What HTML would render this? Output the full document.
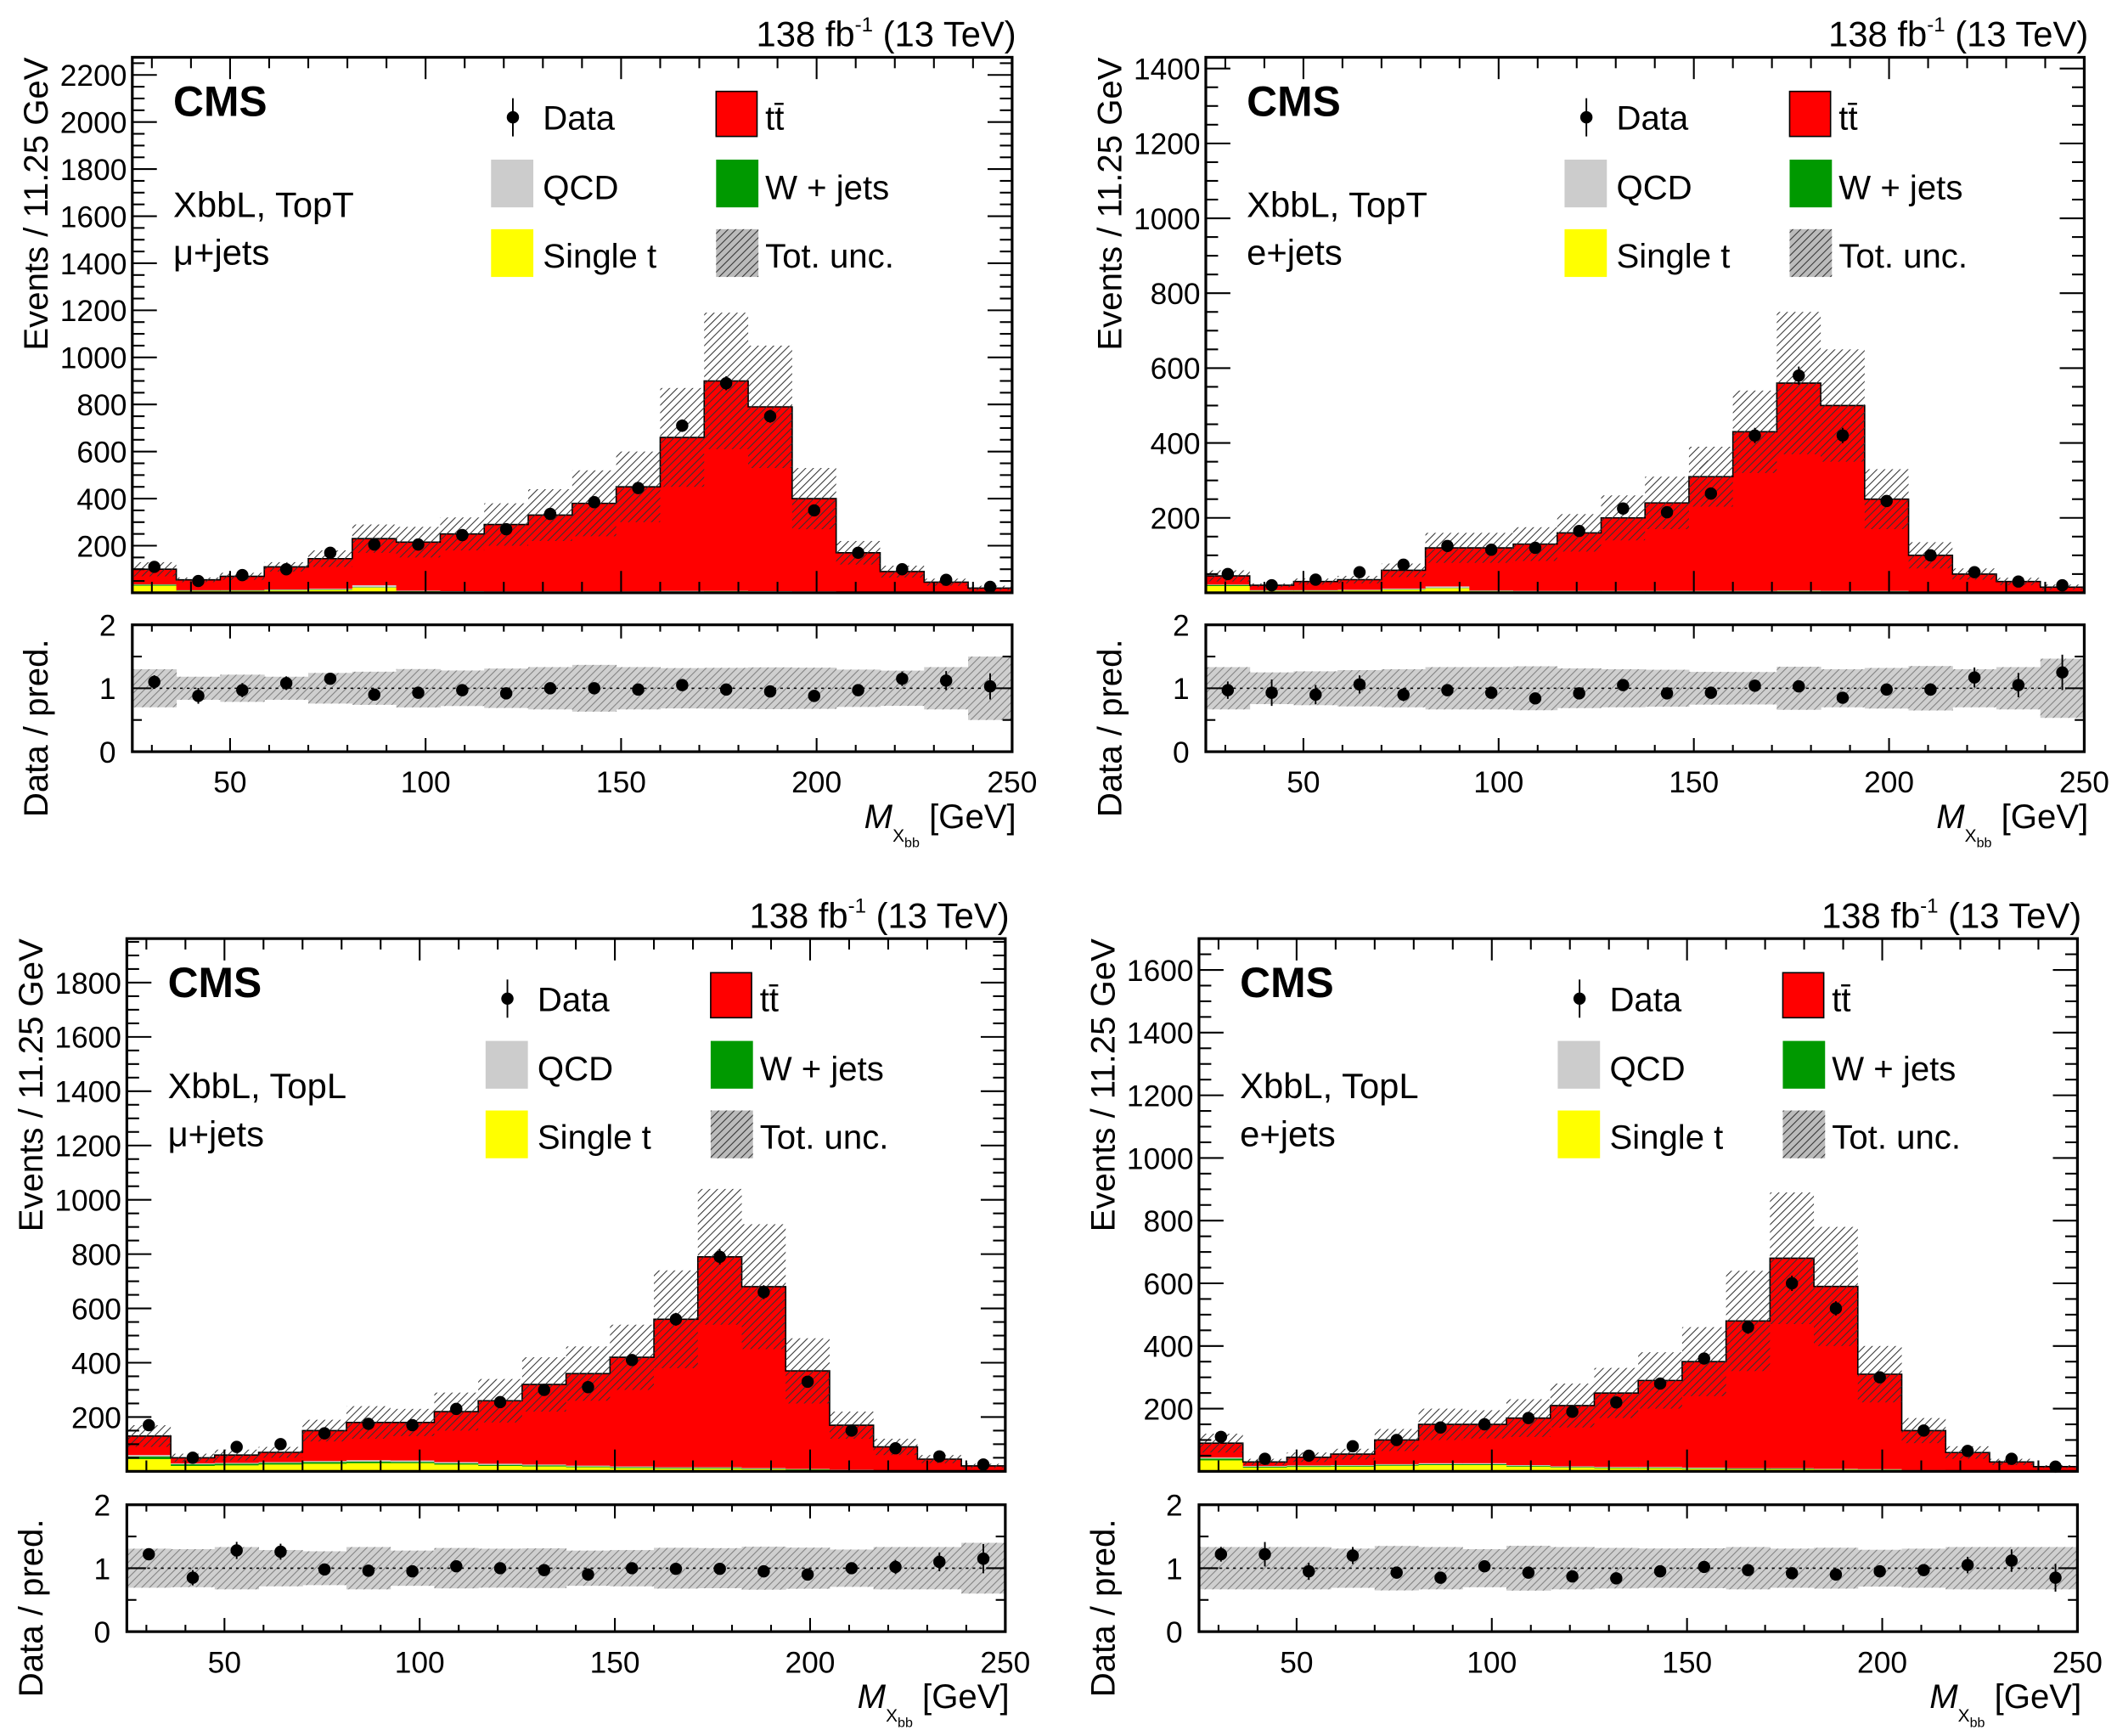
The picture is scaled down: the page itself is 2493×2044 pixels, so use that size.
<!DOCTYPE html>
<html><head><meta charset="utf-8"><style>
html,body{margin:0;padding:0;background:#fff}
svg{display:block}
text{font-family:"Liberation Sans",sans-serif;fill:#000}
</style></head><body>
<svg id="c" width="2493" height="2044" viewBox="0 0 1552 1272.5" preserveAspectRatio="none">
<defs>
<pattern id="hatch" patternUnits="userSpaceOnUse" width="4" height="4" patternTransform="rotate(45)">
<line x1="0" y1="0" x2="0" y2="4" stroke="#333" stroke-width="1.3"/>
</pattern>
</defs>
</svg>
<script>
// ---- data (bins 25..250, width 11.25) ----
const binLo = 25, binW = 11.25, nBins = 20;
const tlStack = [100,55,70,110,145,230,215,250,290,330,380,450,660,900,790,400,170,90,45,20];
const tlUp    = [130,65,85,130,180,290,280,320,380,440,520,600,870,1190,1050,530,220,115,60,30];
const tlData  = [110,50,75,100,170,205,205,245,270,335,385,445,710,890,750,350,170,100,55,25];
const tlRatio = [1.1,0.88,0.97,1.08,1.15,0.9,0.93,0.97,0.92,1.0,1.0,0.98,1.05,0.98,0.95,0.88,0.97,1.15,1.12,1.03];
const tlSingleT=[30,8,8,10,12,22,6,5,4,4,4,4,5,6,5,4,3,2,1,1];
const tlW     = [4,2,2,2,2,2,1,1,1,1,1,1,1,1,1,1,1,0,0,0];
const tlQCD   = [2,1,1,2,3,8,2,1,1,1,1,1,2,1,1,1,0,0,0,0];

const trStack = [45,20,30,35,60,120,120,130,160,200,240,310,430,560,500,250,100,50,30,15];
const trUp    = [60,25,38,45,78,160,160,175,210,260,310,390,540,750,650,330,135,65,40,22];
const trData  = [50,20,35,55,75,125,115,120,165,225,215,265,420,580,420,245,100,55,30,20];
const trRatio = [0.97,0.93,0.9,1.06,0.9,0.97,0.93,0.84,0.92,1.05,0.92,0.93,1.04,1.03,0.85,0.98,0.98,1.17,1.05,1.25];
const trSingleT=[18,5,5,6,8,12,4,3,3,3,3,3,3,4,3,3,2,1,1,1];
const trW     = [3,1,1,1,1,1,1,1,1,1,1,1,1,1,1,1,0,0,0,0];
const trQCD   = [1,1,1,1,2,4,1,1,1,1,1,1,1,1,1,1,0,0,0,0];

const blStack = [130,50,60,70,150,180,180,220,260,320,360,420,560,790,680,370,170,90,45,20];
const blUp    = [170,65,80,90,190,240,230,290,340,420,460,540,740,1040,910,490,220,120,60,28];
const blData  = [170,50,90,100,140,175,170,230,255,300,310,410,560,790,660,330,150,85,55,25];
const blRatio = [1.22,0.85,1.28,1.26,0.98,0.96,0.95,1.03,1.0,0.97,0.9,1.0,0.99,0.99,0.95,0.9,1.0,1.02,1.1,1.15];
const blSingleT=[45,20,22,25,28,30,30,25,20,18,15,12,10,10,8,6,4,3,2,1];
const blW     = [10,6,6,6,6,6,5,5,4,4,3,3,3,3,2,2,1,1,0,0];
const blQCD   = [5,3,3,3,4,5,5,4,4,3,3,3,2,2,2,1,1,0,0,0];

const brStack = [90,30,45,55,100,150,150,170,210,250,290,350,480,680,590,310,130,60,30,15];
const brUp    = [120,40,60,72,135,200,195,230,280,330,380,460,640,890,780,400,170,80,40,20];
const brData  = [110,40,50,80,100,140,150,170,190,220,280,360,460,600,520,300,130,65,40,15];
const brRatio = [1.22,1.22,0.95,1.2,0.93,0.85,1.03,0.93,0.87,0.84,0.95,1.02,0.97,0.92,0.9,0.95,0.97,1.05,1.12,0.85];
const brSingleT=[35,12,14,15,18,20,20,15,12,10,10,8,7,7,6,5,3,2,1,1];
const brW     = [6,3,3,3,3,3,3,3,2,2,2,2,2,2,1,1,1,0,0,0];
const brQCD   = [3,2,2,2,2,3,3,2,2,2,2,2,1,1,1,1,0,0,0,0];

const xTicks = [50,100,150,200,250];
const tlYTicks=[200,400,600,800,1000,1200,1400,1600,1800,2000,2200];
const trYTicks=[200,400,600,800,1000,1200,1400];
const blYTicks=[200,400,600,800,1000,1200,1400,1600,1800];
const brYTicks=[200,400,600,800,1000,1200,1400,1600];
const ratioTicks=[0,1,2];

const svg=document.getElementById('c');
const NS='http://www.w3.org/2000/svg';
function el(tag,attrs,parent){const e=document.createElementNS(NS,tag);for(const k in attrs)e.setAttribute(k,attrs[k]);(parent||svg).appendChild(e);return e;}
function txt(s,attrs,parent){const e=el('text',attrs,parent);e.textContent=s;return e;}

function panel(p){
  const g=el('g',{});
  
  
  const x0=p.x0,x1=p.x1,yT=p.yT,yB=p.yB,rT=p.rT,rB=p.rB;
  const X=v=>x0+(v-25)/(250-25)*(x1-x0);
  const Y=v=>yB-Math.min(v,p.ymax)/p.ymax*(yB-yT);
  const R=v=>rB-v/2*(rB-rT);
  const bx=i=>X(binLo+i*binW), bw=X(binLo+binW)-X(binLo);
  // stack
  for(let i=0;i<nBins;i++){
    const qcd=p.qcd[i],w=p.w[i],st=p.st[i],tot=p.stack[i];
    const segs=[[0,st,'#ffff00','single-t-bar'],[st,st+w,'#009900','wjets-bar'],[st+w,st+w+qcd,'#cccccc','qcd-bar'],[st+w+qcd,tot,'#ff0000','ttbar-bar']];
    for(const s of segs){ if(s[1]<=s[0])continue;
      const r=el('rect',{x:bx(i),y:Y(s[1]),width:bw+0.3,height:Y(s[0])-Y(s[1]),fill:s[2]},g);
      
      
    }
  }
  // stack outline
  let d='M'+X(25)+','+yB;
  for(let i=0;i<nBins;i++){d+=' L'+bx(i)+','+Y(p.stack[i])+' L'+(bx(i)+bw)+','+Y(p.stack[i]);}
  el('path',{d:d,fill:'none',stroke:'#000','stroke-width':1},g);
  // unc band
  for(let i=0;i<nBins;i++){
    const up=p.up[i],lo=2*p.stack[i]-up;
    const r=el('rect',{x:bx(i),y:Y(up),width:bw,height:Y(lo)-Y(up),fill:'url(#hatch)'},g);
    
    
  }
  // data
  for(let i=0;i<nBins;i++){
    const c=bx(i)+bw/2,v=p.data[i],e=Math.sqrt(v);
    el('line',{x1:c,x2:c,y1:Y(v+e),y2:Y(Math.max(v-e,0)),stroke:'#000','stroke-width':1.2},g);
    const m=el('circle',{cx:c,cy:Y(v),r:4.5,fill:'#000'},g);
    
    
  }
  // frame
  el('rect',{x:x0,y:yT,width:x1-x0,height:yB-yT,fill:'none',stroke:'#000','stroke-width':2},g);
  // y ticks
  const step=p.yt[1]-p.yt[0];
  for(let v=step/4;v<=p.ymax;v+=step/4){
    const major=Math.abs(v/step-Math.round(v/step))<1e-6;
    const L=major?18:9;
    el('line',{x1:x0,x2:x0+L,y1:Y(v),y2:Y(v),stroke:'#000','stroke-width':1.3},g);
    el('line',{x1:x1,x2:x1-L,y1:Y(v),y2:Y(v),stroke:'#000','stroke-width':1.3},g);
  }
  for(const v of p.yt){ txt(String(v),{x:x0-4,y:Y(v)+8,'font-size':22,'text-anchor':'end'},g); }
  // x ticks
  for(let v=30;v<=250;v+=10){
    const major=v%50===0,L=major?16:8;
    el('line',{x1:X(v),x2:X(v),y1:yB,y2:yB-L,stroke:'#000','stroke-width':1.3},g);
    el('line',{x1:X(v),x2:X(v),y1:yT,y2:yT+L,stroke:'#000','stroke-width':1.3},g);
    el('line',{x1:X(v),x2:X(v),y1:rB,y2:rB-(major?10:5),stroke:'#000','stroke-width':1.3},g);
    el('line',{x1:X(v),x2:X(v),y1:rT,y2:rT+(major?10:5),stroke:'#000','stroke-width':1.3},g);
  }
  for(const v of xTicks){ txt(String(v),{x:X(v),y:rB+30,'font-size':22,'text-anchor':'middle'},g); }
  // ratio panel
  for(let i=0;i<nBins;i++){
    const u=p.up[i]/p.stack[i]-1;
    el('rect',{x:bx(i),y:R(1+u),width:bw+0.3,height:R(1-u)-R(1+u),fill:'#cfcfcf'},g);
    el('rect',{x:bx(i),y:R(1+u),width:bw+0.3,height:R(1-u)-R(1+u),fill:'url(#hatch)',opacity:0.5},g);
  }
  el('line',{x1:x0,x2:x1,y1:R(1),y2:R(1),stroke:'#000','stroke-width':1,'stroke-dasharray':'2,3'},g);
  for(let i=0;i<nBins;i++){
    const c=bx(i)+bw/2,v=p.ratio[i],e=v/Math.sqrt(p.data[i]);
    el('line',{x1:c,x2:c,y1:R(v+e),y2:R(v-e),stroke:'#000','stroke-width':1.2},g);
    const m=el('circle',{cx:c,cy:R(v),r:4.5,fill:'#000'},g);
    
    
  }
  el('rect',{x:x0,y:rT,width:x1-x0,height:rB-rT,fill:'none',stroke:'#000','stroke-width':2},g);
  for(let v=0.5;v<2;v+=0.5){const L=v%1===0?14:7;
    el('line',{x1:x0,x2:x0+L,y1:R(v),y2:R(v),stroke:'#000','stroke-width':1.3},g);
    el('line',{x1:x1,x2:x1-L,y1:R(v),y2:R(v),stroke:'#000','stroke-width':1.3},g);}
  for(const v of ratioTicks){ txt(String(v),{x:x0-12,y:R(v)+8,'font-size':22,'text-anchor':'end'},g); }
  // titles
  txt('Events / 11.25 GeV',{transform:`translate(${x0-62},${yT}) rotate(-90)`,'font-size':25,'text-anchor':'end'},g);
  txt('Data / pred.',{transform:`translate(${x0-62},${rB+48}) rotate(-90)`,'font-size':25,'text-anchor':'start'},g);
  const xt=txt('',{x:x1+3,y:rB+56,'font-size':25,'text-anchor':'end'},g);
  
  xt.innerHTML='<tspan font-style="italic">M</tspan><tspan font-size="13" dy="10">X</tspan><tspan font-size="10" dy="4">bb</tspan><tspan dy="-14"> [GeV]</tspan>';
  const lu=txt('',{x:x1+3,y:yT-8,'font-size':26,'text-anchor':'end'},g);
  
  lu.innerHTML='138 fb<tspan font-size="15" dy="-11">-1</tspan><tspan dy="11">  (13 TeV)</tspan>';
  txt('CMS',{x:x0+30,y:yT+43,'font-size':31,'font-weight':'bold'},g);
  txt(p.cat,{x:x0+30,y:yT+117,'font-size':26},g);
  txt(p.chan,{x:x0+30,y:yT+152,'font-size':26},g);
  // legend
  const lx=x0+263,ly=yT;
  const lg=el('g',{},g);
  
  
  el('line',{x1:lx+16,x2:lx+16,y1:ly+30,y2:ly+58,stroke:'#000','stroke-width':1.2},lg);
  el('circle',{cx:lx+16,cy:ly+44,r:4.5,fill:'#000'},lg);
  txt('Data',{x:lx+38,y:ly+53,'font-size':25},lg);
  el('rect',{x:lx+165,y:ly+25,width:30,height:33,fill:'#ff0000',stroke:'#000','stroke-width':1},lg);
  const tt=txt('tt̄',{x:lx+201,y:ly+53,'font-size':25},lg);
  el('rect',{x:lx,y:ly+75,width:31,height:35,fill:'#cccccc'},lg);
  txt('QCD',{x:lx+38,y:ly+104,'font-size':25},lg);
  el('rect',{x:lx+165,y:ly+75,width:31,height:35,fill:'#009900'},lg);
  txt('W + jets',{x:lx+201,y:ly+104,'font-size':25},lg);
  el('rect',{x:lx,y:ly+126,width:31,height:35,fill:'#ffff00'},lg);
  txt('Single t',{x:lx+38,y:ly+154,'font-size':25},lg);
  el('rect',{x:lx+165,y:ly+126,width:31,height:35,fill:'#bbb'},lg);
  el('rect',{x:lx+165,y:ly+126,width:31,height:35,fill:'url(#hatch)'},lg);
  txt('Tot. unc.',{x:lx+201,y:ly+154,'font-size':25},lg);
}
panel({name:'panel-topt-mu',x0:97,x1:742,yT:42,yB:434.5,rT:458,rB:551,ymax:2275,yt:tlYTicks,stack:tlStack,up:tlUp,data:tlData,ratio:tlRatio,st:tlSingleT,w:tlW,qcd:tlQCD,cat:'XbbL, TopT',chan:'μ+jets'});
panel({name:'panel-topt-e',x0:884,x1:1528,yT:42,yB:434.5,rT:458,rB:551,ymax:1430,yt:trYTicks,stack:trStack,up:trUp,data:trData,ratio:trRatio,st:trSingleT,w:trW,qcd:trQCD,cat:'XbbL, TopT',chan:'e+jets'});
panel({name:'panel-topl-mu',x0:93,x1:737,yT:688,yB:1078.5,rT:1103,rB:1196,ymax:1962,yt:blYTicks,stack:blStack,up:blUp,data:blData,ratio:blRatio,st:blSingleT,w:blW,qcd:blQCD,cat:'XbbL, TopL',chan:'μ+jets'});
panel({name:'panel-topl-e',x0:879,x1:1523,yT:688,yB:1078.5,rT:1103,rB:1196,ymax:1700,yt:brYTicks,stack:brStack,up:brUp,data:brData,ratio:brRatio,st:brSingleT,w:brW,qcd:brQCD,cat:'XbbL, TopL',chan:'e+jets'});
</script>
</body></html>
